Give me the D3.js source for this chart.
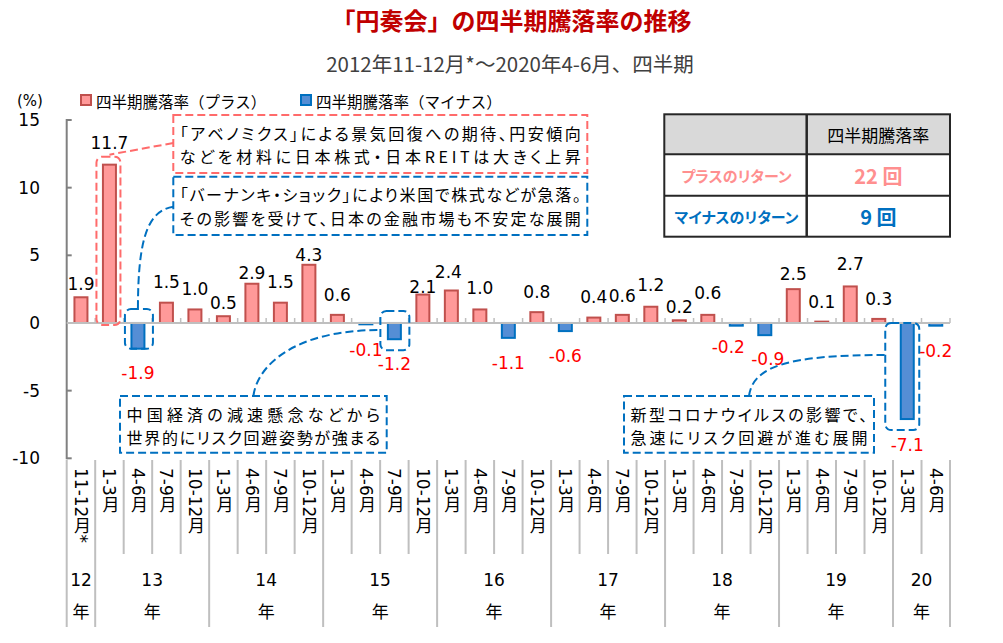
<!DOCTYPE html>
<html>
<head>
<meta charset="utf-8">
<script src="https://cdn.jsdelivr.net/npm/d3@7"></script>
<style>
  body { margin: 0; background: #fff; }
  svg { display: block; }
  .jp { font-family: "Noto Sans CJK JP", sans-serif; }
  .num { font-family: "DejaVu Sans", "Noto Sans CJK JP", sans-serif; }
  .palt { font-feature-settings: "palt"; }
</style>
</head>
<body>
<svg id="chart" width="1003" height="643"></svg>
<script>
  /*
   * Data
   */

  // Quarter labels, one per bar
  var QUARTERS = [
    "11-12月*",
    "1-3月", "4-6月", "7-9月", "10-12月",
    "1-3月", "4-6月", "7-9月", "10-12月",
    "1-3月", "4-6月", "7-9月", "10-12月",
    "1-3月", "4-6月", "7-9月", "10-12月",
    "1-3月", "4-6月", "7-9月", "10-12月",
    "1-3月", "4-6月", "7-9月", "10-12月",
    "1-3月", "4-6月", "7-9月", "10-12月",
    "1-3月", "4-6月"
  ];

  // Year groups and how many quarters each covers
  var YEARS = ["12", "13", "14", "15", "16", "17", "18", "19", "20"];
  var YEAR_SPANS = [1, 4, 4, 4, 4, 4, 4, 4, 2];

  // Quarterly return (%)
  var RETURNS = [
    1.9,
    11.7, -1.9, 1.5, 1.0,
    0.5, 2.9, 1.5, 4.3,
    0.6, -0.1, -1.2, 2.1,
    2.4, 1.0, -1.1, 0.8,
    -0.6, 0.4, 0.6, 1.2,
    0.2, 0.6, -0.2, -0.9,
    2.5, 0.1, 2.7, 0.3,
    -7.1, -0.2
  ];

  var Y_TICKS = [15, 10, 5, 0, -5, -10];
  var SERIES = ["四半期騰落率（プラス）", "四半期騰落率（マイナス）"];
  var TABLE_HEAD = "四半期騰落率";
  var TABLE_ROWS = ["プラスのリターン", "マイナスのリターン"];

  var TITLE = "「円奏会」の四半期騰落率の推移";
  var SUBTITLE = "2012年11-12月*～2020年4-6月、四半期";

  /*
   * Layout
   */

  var PLOT = { left: 66.7, right: 950, top: 120, bottom: 458.3 };

  // Value label offsets from the bar end (px), as placed in the original
  var LABEL_DY = [
    -13,
    -22, 24, -21, -20,
    -13, -11, -21, -10,
    -20, 26, 25, -8,
    -19, -21, 25, -20,
    25, -21, -19, -22,
    -13, -22, 21, 24,
    -15, -20, -22, -20,
    26, 25
  ];
  var LABEL_DX = { 13: -3, 23: -8, 24: 3 };

  var PINK_FILL = "#ff9999";
  var PINK_LINE = "#c0504d";
  var BLUE_FILL = "#558ed5";
  var BLUE_LINE = "#0070c0";
  var NOTE_PINK = "#ff6b6b";
  var NOTE_BLUE = "#0070c0";
  var GRID = "#bfbfbf";

  // Rounded highlight boxes around single bars
  var HIGHLIGHTS = [
    { i: 1, l: -13, r: 11, top: 8, bottom: 2, color: NOTE_PINK },
    { i: 2, l: -13, r: 15, top: 14, bottom: 0, color: NOTE_BLUE },
    { i: 11, l: -14, r: 15, top: 12, bottom: 11, color: NOTE_BLUE },
    { i: 29, l: -22, r: 12, top: 0, bottom: 11, color: NOTE_BLUE }
  ];

  // Annotation boxes
  var NOTES = [
    { x: 173.3, y: 115, w: 414, h: 58, color: NOTE_PINK, hl: 0,
      lines: ["「アベノミクス」による景気回復への期待、円安傾向",
              "などを材料に日本株式・日本REITは大きく上昇"] },
    { x: 173.3, y: 176.7, w: 414, h: 58.3, color: NOTE_BLUE, hl: 1,
      lines: ["「バーナンキ・ショック」により米国で株式などが急落。",
              "その影響を受けて、日本の金融市場も不安定な展開"] },
    { x: 120, y: 396, w: 266.7, h: 56.7, color: NOTE_BLUE, hl: 2,
      lines: ["中国経済の減速懸念などから",
              "世界的にリスク回避姿勢が強まる"] },
    { x: 624, y: 396, w: 250, h: 56.7, color: NOTE_BLUE, hl: 3,
      lines: ["新型コロナウイルスの影響で、",
              "急速にリスク回避が進む展開"] }
  ];

  var svg = d3.select("#chart");

  var x = d3.scaleBand()
    .domain(d3.range(RETURNS.length))
    .range([PLOT.left, PLOT.right])
    .paddingInner(0)
    .paddingOuter(0);

  var y = d3.scaleLinear()
    .domain([-10, 15])
    .range([PLOT.bottom, PLOT.top]);

  var bw = 13;
  function cx(i) { return x(i) + x.bandwidth() / 2; }

  /*
   * Title
   */

  svg.append("text")
    .attr("class", "jp")
    .attr("x", 511.5)
    .attr("y", 19)
    .attr("text-anchor", "middle")
    .attr("dominant-baseline", "central")
    .style("font-size", "24px")
    .style("font-weight", "bold")
    .attr("fill", "#c00000")
    .text(TITLE);

  svg.append("text")
    .attr("class", "jp")
    .attr("x", 510)
    .attr("y", 63)
    .attr("text-anchor", "middle")
    .attr("dominant-baseline", "central")
    .style("font-size", "20.5px")
    .attr("fill", "#404040")
    .text(SUBTITLE);

  /*
   * Legend
   */

  svg.append("text")
    .attr("class", "num")
    .attr("x", 17)
    .attr("y", 101)
    .attr("dominant-baseline", "central")
    .style("font-size", "15px")
    .text("(%)");

  var legend = svg.append("g");
  var legX = [80, 300];
  SERIES.forEach(function (name, k) {
    legend.append("rect")
      .attr("x", legX[k] + 1)
      .attr("y", 95)
      .attr("width", 10)
      .attr("height", 10)
      .attr("fill", k == 0 ? PINK_FILL : BLUE_FILL)
      .attr("stroke", k == 0 ? PINK_LINE : BLUE_LINE)
      .attr("stroke-width", 2);
    legend.append("text")
      .attr("class", "jp")
      .attr("x", legX[k] + 16)
      .attr("y", 101)
      .attr("dominant-baseline", "central")
      .style("font-size", "15.5px")
      .text(name);
  });

  /*
   * Axes
   */

  var yAxis = svg.append("g");
  yAxis.append("line")
    .attr("x1", PLOT.left).attr("x2", PLOT.left)
    .attr("y1", y(15) - 1).attr("y2", y(-10) + 1)
    .attr("stroke", "#808080")
    .attr("stroke-width", 2);
  yAxis.selectAll(".tick")
    .data(Y_TICKS)
    .enter().append("line")
      .attr("x1", PLOT.left).attr("x2", PLOT.left + 5)
      .attr("y1", d => y(d)).attr("y2", d => y(d))
      .attr("stroke", "#808080")
      .attr("stroke-width", 2);
  yAxis.selectAll(".lbl")
    .data(Y_TICKS)
    .enter().append("text")
      .attr("class", "num")
      .attr("x", 40)
      .attr("y", d => y(d))
      .attr("text-anchor", "end")
      .attr("dominant-baseline", "central")
      .style("font-size", "17px")
      .text(d => d);

  /*
   * Bars
   */

  svg.append("g").selectAll("rect")
    .data(RETURNS)
    .enter().append("rect")
      .attr("x", (d, i) => cx(i) - bw / 2)
      .attr("y", d => y(Math.max(0, d)))
      .attr("width", bw)
      .attr("height", d => Math.abs(y(d) - y(0)))
      .attr("fill", d => d >= 0 ? PINK_FILL : BLUE_FILL)
      .attr("stroke", d => d >= 0 ? PINK_LINE : BLUE_LINE)
      .attr("stroke-width", 2);

  // zero line with small ticks at category borders
  var zero = svg.append("g");
  zero.append("line")
    .attr("x1", PLOT.left).attr("x2", PLOT.right)
    .attr("y1", y(0)).attr("y2", y(0))
    .attr("stroke", GRID)
    .attr("stroke-width", 2);
  zero.selectAll(".zt")
    .data(d3.range(1, RETURNS.length + 1))
    .enter().append("line")
      .attr("x1", i => x(0) + i * x.bandwidth())
      .attr("x2", i => x(0) + i * x.bandwidth())
      .attr("y1", y(0) - 5).attr("y2", y(0))
      .attr("stroke", GRID)
      .attr("stroke-width", 1.5);

  // value labels
  svg.append("g").selectAll("text")
    .data(RETURNS)
    .enter().append("text")
      .attr("class", "num")
      .attr("x", (d, i) => cx(i) + (LABEL_DX[i] || 0))
      .attr("y", (d, i) => y(d) + LABEL_DY[i])
      .attr("text-anchor", "middle")
      .attr("dominant-baseline", "central")
      .style("font-size", "17px")
      .attr("fill", d => d >= 0 ? "#000" : "#ff0000")
      .text(d => d.toFixed(1));

  /*
   * Category axis (quarters and years)
   */

  var cat = svg.append("g");
  var yearStart = [];
  var acc = 0;
  YEAR_SPANS.forEach(function (n) { yearStart.push(acc); acc += n; });

  // separators between quarters (longer ones between years)
  cat.selectAll(".qsep")
    .data(d3.range(0, RETURNS.length + 1))
    .enter().append("line")
      .attr("x1", i => x(0) + i * x.bandwidth())
      .attr("x2", i => x(0) + i * x.bandwidth())
      .attr("y1", 460)
      .attr("y2", i => (yearStart.indexOf(i) >= 0 || i == RETURNS.length) ? 627 : 554)
      .attr("stroke", GRID)
      .attr("stroke-width", 2);

  cat.selectAll(".qlbl")
    .data(QUARTERS)
    .enter().append("text")
      .attr("class", "num")
      .attr("x", (d, i) => cx(i))
      .attr("y", 468)
      .style("writing-mode", "vertical-rl")
      .style("font-size", "17px")
      .text(d => d);

  YEARS.forEach(function (yr, k) {
    var mid = x(0) + (yearStart[k] + YEAR_SPANS[k] / 2) * x.bandwidth();
    cat.append("text")
      .attr("class", "num")
      .attr("x", mid)
      .attr("y", 580)
      .attr("text-anchor", "middle")
      .attr("dominant-baseline", "central")
      .style("font-size", "17px")
      .text(yr);
    cat.append("text")
      .attr("class", "jp")
      .attr("x", mid)
      .attr("y", 610)
      .attr("text-anchor", "middle")
      .attr("dominant-baseline", "central")
      .style("font-size", "17px")
      .text("年");
  });

  /*
   * Annotations
   */

  var notes = svg.append("g")
    .attr("fill", "none")
    .attr("stroke-width", 2)
    .attr("stroke-dasharray", "8,4");

  var hlBoxes = HIGHLIGHTS.map(function (h) {
    var v = RETURNS[h.i];
    var top = Math.min(y(v), y(0)) - h.top;
    var bot = Math.max(y(v), y(0)) + h.bottom;
    return { x: cx(h.i) + h.l, y: top, w: h.r - h.l, h: bot - top, color: h.color };
  });

  notes.selectAll(".hl")
    .data(hlBoxes)
    .enter().append("rect")
      .attr("x", d => d.x)
      .attr("y", d => d.y)
      .attr("width", d => d.w)
      .attr("height", d => d.h)
      .attr("rx", 6)
      .attr("stroke", d => d.color);

  NOTES.forEach(function (n) {
    var hb = hlBoxes[n.hl];
    notes.append("rect")
      .attr("x", n.x).attr("y", n.y)
      .attr("width", n.w).attr("height", n.h)
      .attr("fill", "#fff")
      .attr("stroke", n.color);

    // connector from the note to its highlighted bar
    var p = d3.path();
    if (n.hl == 0) {
      p.moveTo(n.x, n.y + 28);
      p.lineTo(hb.x + hb.w / 2 + 1, hb.y - 2);
    } else if (n.hl == 1) {
      var ex = hb.x + hb.w / 2 - 1;
      p.moveTo(n.x, n.y + 30);
      p.bezierCurveTo(n.x - 25, n.y + 34, ex, n.y + 60, ex, hb.y);
    } else {
      var sx = n.x + n.w * 0.5;
      var ey = n.hl == 2 ? hb.y + 19 : hb.y + 32;
      p.moveTo(sx, n.y);
      p.bezierCurveTo(sx + 4, n.y - 30, sx + 40, ey, hb.x, ey);
    }
    notes.append("path")
      .attr("d", p.toString())
      .attr("stroke", n.color);

    // two lines, spread to the box width
    n.lines.forEach(function (line, j) {
      svg.append("text")
        .attr("class", "jp palt")
        .attr("x", n.x + 6.5)
        .attr("y", n.y + 17.5 + j * 23.6)
        .attr("dominant-baseline", "central")
        .attr("textLength", n.w - 13)
        .attr("lengthAdjust", "spacing")
        .style("font-size", "16px")
        .attr("fill", "#000")
        .text(line);
    });
  });

  /*
   * Count table
   */

  var nPlus = RETURNS.filter(d => d > 0).length;
  var nMinus = RETURNS.filter(d => d < 0).length;

  var T = { x0: 664.3, x1: 806.7, x2: 950, rows: [114.3, 154.3, 195.7, 236.7] };
  var tbl = svg.append("g");
  tbl.append("rect")
    .attr("x", T.x0).attr("y", T.rows[0])
    .attr("width", T.x2 - T.x0).attr("height", T.rows[1] - T.rows[0])
    .attr("fill", "#d9d9d9");
  tbl.append("rect")
    .attr("x", T.x0).attr("y", T.rows[0])
    .attr("width", T.x2 - T.x0).attr("height", T.rows[3] - T.rows[0])
    .attr("fill", "none")
    .attr("stroke", "#262626")
    .attr("stroke-width", 2);
  tbl.append("line")
    .attr("x1", T.x1).attr("x2", T.x1)
    .attr("y1", T.rows[0]).attr("y2", T.rows[3])
    .attr("stroke", "#262626")
    .attr("stroke-width", 2.5);
  [T.rows[1], T.rows[2]].forEach(function (ry) {
    tbl.append("line")
      .attr("x1", T.x0).attr("x2", T.x2)
      .attr("y1", ry).attr("y2", ry)
      .attr("stroke", "#262626")
      .attr("stroke-width", 2);
  });

  tbl.append("text")
    .attr("class", "jp")
    .attr("x", (T.x1 + T.x2) / 2)
    .attr("y", (T.rows[0] + T.rows[1]) / 2)
    .attr("text-anchor", "middle")
    .attr("dominant-baseline", "central")
    .style("font-size", "17px")
    .text(TABLE_HEAD);

  var counts = [nPlus, nMinus];
  var tcol = ["#ff8f8f", "#0070c0"];
  TABLE_ROWS.forEach(function (name, k) {
    var my = (T.rows[k + 1] + T.rows[k + 2]) / 2;
    tbl.append("text")
      .attr("class", "jp palt")
      .attr("x", (T.x0 + T.x1) / 2 + 1)
      .attr("y", my)
      .attr("text-anchor", "middle")
      .attr("dominant-baseline", "central")
      .style("font-size", "15px")
      .style("font-weight", "bold")
      .attr("fill", tcol[k])
      .text(name);
    tbl.append("text")
      .attr("class", "jp")
      .attr("x", (T.x1 + T.x2) / 2)
      .attr("y", my)
      .attr("text-anchor", "middle")
      .attr("dominant-baseline", "central")
      .style("font-size", "20px")
      .style("font-weight", "bold")
      .attr("fill", tcol[k])
      .text(counts[k] + " 回");
  });
</script>
</body>
</html>
